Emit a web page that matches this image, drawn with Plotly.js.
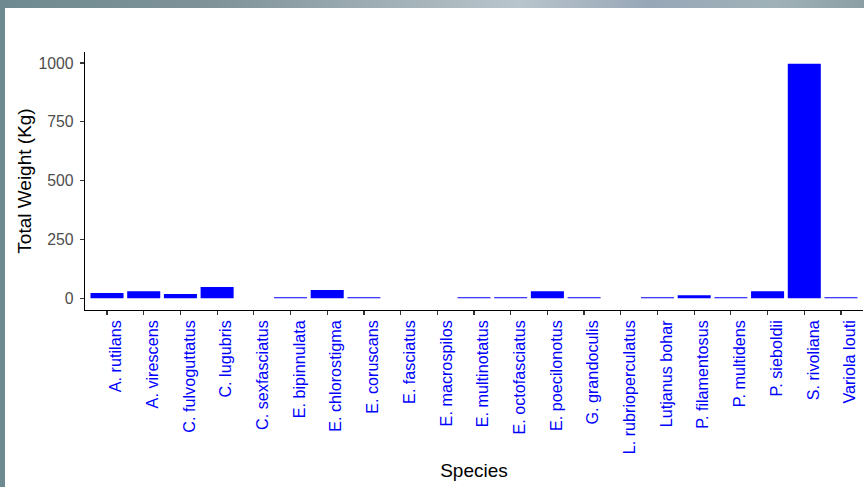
<!DOCTYPE html>
<html>
<head>
<meta charset="utf-8">
<script src="https://cdn.plot.ly/plotly-3.0.1.min.js"></script>
<style>
  html, body { margin: 0; padding: 0; width: 864px; height: 487px; overflow: hidden; }
  body { background: #6c8a8f; position: relative; }
  #topstrip { position: absolute; left: 0; top: 0; width: 864px; height: 8px;
    background: linear-gradient(to right, #6e8a90 0%, #7f9399 25%, #a9b7bd 50%, #b9c5cc 60%, #98a7b8 75%, #a0b2b8 90%, #8a9ea4 100%); }
  #chart { position: absolute; left: 5px; top: 8px; width: 859px; height: 479px; background: #fff; }
</style>
</head>
<body>
<div id="topstrip"></div>
<div id="chart"></div>
<script>
const species = [
  "A. rutilans", "A. virescens", "C. fulvoguttatus", "C. lugubris", "C. sexfasciatus",
  "E. bipinnulata", "E. chlorostigma", "E. coruscans", "E. fasciatus", "E. macrospilos",
  "E. multinotatus", "E. octofasciatus", "E. poecilonotus", "G. grandoculis",
  "L. rubrioperculatus", "Lutjanus bohar", "P. filamentosus", "P. multidens",
  "P. sieboldii", "S. rivoliana", "Variola louti"
];
const totalWeight = [
  23, 30, 18, 48, 0,
  5, 35, 5, 0, 0,
  5, 5, 30, 5,
  0, 5, 13, 5,
  30, 997, 5
];
const yTickVals = [0, 250, 500, 750, 1000];

const bars = {
  type: 'bar',
  x: species,
  y: totalWeight,
  marker: { color: '#0000ff', line: { width: 0 } },
  hoverinfo: 'x+y'
};
// label-only trace on an overlaid category axis, shifted so labels sit right of ticks
const labelTrace = {
  type: 'scatter',
  mode: 'none',
  x: species,
  y: totalWeight,
  xaxis: 'x2',
  yaxis: 'y',
  hoverinfo: 'skip',
  showlegend: false
};

const xShift = 0.245;
const layout = {
  width: 859,
  height: 479,
  margin: { l: 80, r: 1, t: 44, b: 177 },
  paper_bgcolor: '#ffffff',
  plot_bgcolor: '#ffffff',
  showlegend: false,
  bargap: 0.1,
  font: { family: 'Liberation Sans, Arial, sans-serif' },
  xaxis: {
    type: 'category',
    range: [-0.6, 20.6],
    showgrid: false,
    zeroline: false,
    showline: true,
    linecolor: '#000000',
    linewidth: 1.2,
    ticks: 'outside',
    ticklen: 4,
    tickcolor: '#333333',
    tickwidth: 1.2,
    showticklabels: false,
    automargin: false
  },
  xaxis2: {
    type: 'category',
    overlaying: 'x',
    side: 'bottom',
    anchor: 'y',
    range: [-0.6 - xShift, 20.6 - xShift],
    showgrid: false,
    zeroline: false,
    showline: false,
    ticks: '',
    tickangle: -90,
    ticklabelstandoff: 6,
    tickfont: { size: 16.2, color: '#0000ff', family: 'Liberation Sans, Arial, sans-serif' },
    title: { text: 'Species', font: { size: 19, color: '#000000' }, standoff: 10 },
    automargin: false
  },
  yaxis: {
    range: [-49.7, 1046.7],
    tickvals: yTickVals,
    ticktext: yTickVals.map(String),
    showgrid: false,
    zeroline: false,
    showline: true,
    linecolor: '#000000',
    linewidth: 1.2,
    ticks: 'outside',
    ticklen: 4,
    tickcolor: '#333333',
    tickwidth: 1.2,
    ticklabelstandoff: 3,
    tickfont: { size: 15.8, color: '#4d4d4d', family: 'Liberation Sans, Arial, sans-serif' },
    title: { text: 'Total Weight (Kg)', font: { size: 19, color: '#000000' }, standoff: 1 },
    automargin: false
  }
};

Plotly.newPlot('chart', [bars, labelTrace], layout, { displayModeBar: false, staticPlot: true });
</script>
</body>
</html>
